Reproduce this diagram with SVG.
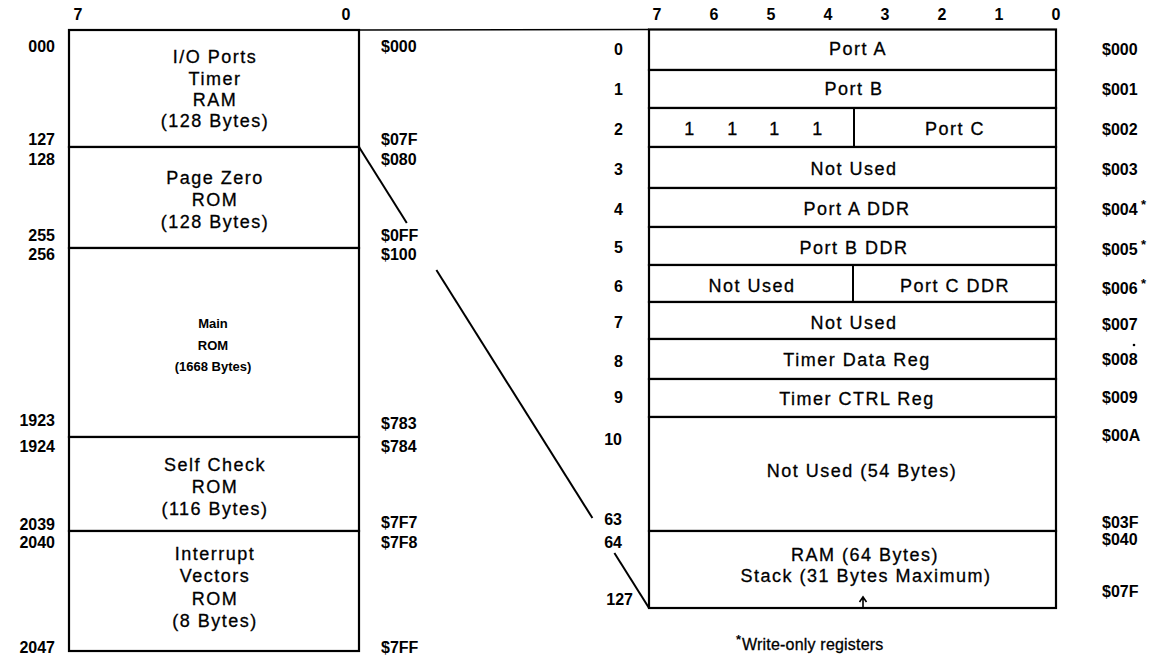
<svg xmlns="http://www.w3.org/2000/svg" width="1156" height="660" viewBox="0 0 1156 660">
<style>
.box{fill:#fff;stroke:#000;stroke-width:2.2}
.div{stroke:#000;stroke-width:2}
.conn{stroke:#000;stroke-width:2;fill:none}
.lbl{font-family:"Liberation Sans",Arial,sans-serif;font-weight:bold;font-size:16px;fill:#000}
.r{text-anchor:end}
.txt{font-family:"Liberation Sans",Arial,sans-serif;font-size:18px;letter-spacing:1.5px;text-anchor:middle;fill:#000;stroke:#000;stroke-width:0.3}
.sm{font-family:"Liberation Sans",Arial,sans-serif;font-size:13px;font-weight:bold;text-anchor:middle;fill:#000}
.ast{font-family:"Liberation Sans",Arial,sans-serif;font-weight:bold;font-size:13px;fill:#000}
</style>
<rect width="1156" height="660" fill="#fff"/>

<!-- bit headers -->
<g id="bits-left" class="lbl" text-anchor="middle">
<text x="78" y="20">7</text><text x="346" y="20">0</text>
</g>
<g id="bits-right" class="lbl" text-anchor="middle">
<text x="657" y="20">7</text><text x="714" y="20">6</text><text x="771" y="20">5</text><text x="828" y="20">4</text><text x="885" y="20">3</text><text x="942" y="20">2</text><text x="999" y="20">1</text><text x="1056" y="20">0</text>
</g>

<!-- connectors -->
<g id="connectors" class="conn">
<line x1="359" y1="30" x2="649" y2="29.5" stroke-width="1.6"/>
<line x1="359" y1="147" x2="406.8" y2="223"/>
<line x1="436.4" y1="270" x2="592.4" y2="518"/>
<line x1="614.4" y1="553" x2="649" y2="608"/>
</g>

<!-- left memory map -->
<g id="io-ram">
<rect class="box" x="69" y="30" width="290" height="117"/>
<text class="txt" x="215" y="63">I/O Ports</text>
<text class="txt" x="215" y="85">Timer</text>
<text class="txt" x="215" y="106">RAM</text>
<text class="txt" x="215" y="127">(128 Bytes)</text>
<text class="lbl r" x="55" y="52">000</text><text class="lbl r" x="55" y="145">127</text>
<text class="lbl" x="381" y="52">$000</text><text class="lbl" x="381" y="145">$07F</text>
</g>
<g id="page-zero-rom">
<rect class="box" x="69" y="147" width="290" height="101"/>
<text class="txt" x="215" y="184">Page Zero</text>
<text class="txt" x="215" y="206">ROM</text>
<text class="txt" x="215" y="228">(128 Bytes)</text>
<text class="lbl r" x="55" y="165">128</text><text class="lbl r" x="55" y="241">255</text>
<text class="lbl" x="381" y="165">$080</text><text class="lbl" x="381" y="241">$0FF</text>
</g>
<g id="main-rom">
<rect class="box" x="69" y="248" width="290" height="189"/>
<text class="sm" x="213" y="328">Main</text>
<text class="sm" x="213" y="350">ROM</text>
<text class="sm" x="213" y="371">(1668 Bytes)</text>
<text class="lbl r" x="55" y="260">256</text><text class="lbl r" x="55" y="426">1923</text>
<text class="lbl" x="381" y="260">$100</text><text class="lbl" x="381" y="429">$783</text>
</g>
<g id="self-check-rom">
<rect class="box" x="69" y="437" width="290" height="94"/>
<text class="txt" x="215" y="471">Self Check</text>
<text class="txt" x="215" y="493">ROM</text>
<text class="txt" x="215" y="515">(116 Bytes)</text>
<text class="lbl r" x="55" y="452">1924</text><text class="lbl r" x="55" y="530">2039</text>
<text class="lbl" x="381" y="452">$784</text><text class="lbl" x="381" y="528">$7F7</text>
</g>
<g id="vectors-rom">
<rect class="box" x="69" y="531" width="290" height="120"/>
<text class="txt" x="215" y="560">Interrupt</text>
<text class="txt" x="215" y="582">Vectors</text>
<text class="txt" x="215" y="605">ROM</text>
<text class="txt" x="215" y="627">(8 Bytes)</text>
<text class="lbl r" x="55" y="548">2040</text><text class="lbl r" x="55" y="653">2047</text>
<text class="lbl" x="381" y="548">$7F8</text><text class="lbl" x="381" y="653">$7FF</text>
</g>

<!-- right register map -->
<g id="row-0">
<rect class="box" x="649" y="29.5" width="407" height="40.5"/>
<text class="txt" x="858" y="55">Port A</text>
<text class="lbl r" x="623" y="55">0</text><text class="lbl" x="1102" y="55">$000</text>
</g>
<g id="row-1">
<rect class="box" x="649" y="70" width="407" height="38"/>
<text class="txt" x="854" y="95">Port B</text>
<text class="lbl r" x="623" y="95">1</text><text class="lbl" x="1102" y="95">$001</text>
</g>
<g id="row-2">
<rect class="box" x="649" y="108" width="407" height="39"/>
<line class="div" x1="854" y1="108" x2="854" y2="147"/>
<g class="txt" letter-spacing="0"><text x="690" y="135">1</text><text x="733" y="135">1</text><text x="775" y="135">1</text><text x="818" y="135">1</text></g>
<text class="txt" x="955" y="135">Port C</text>
<text class="lbl r" x="623" y="135">2</text><text class="lbl" x="1102" y="135">$002</text>
</g>
<g id="row-3">
<rect class="box" x="649" y="147" width="407" height="41"/>
<text class="txt" x="854" y="175">Not Used</text>
<text class="lbl r" x="623" y="175">3</text><text class="lbl" x="1102" y="175">$003</text>
</g>
<g id="row-4">
<rect class="box" x="649" y="188" width="407" height="39"/>
<text class="txt" x="857" y="215">Port A DDR</text>
<text class="lbl r" x="623" y="215">4</text><text class="lbl" x="1102" y="215">$004</text><text class="ast" x="1141" y="209">*</text>
</g>
<g id="row-5">
<rect class="box" x="649" y="227" width="407" height="38"/>
<text class="txt" x="854" y="254">Port B DDR</text>
<text class="lbl r" x="623" y="253">5</text><text class="lbl" x="1102" y="255">$005</text><text class="ast" x="1141" y="249">*</text>
</g>
<g id="row-6">
<rect class="box" x="649" y="265" width="407" height="37"/>
<line class="div" x1="853" y1="265" x2="853" y2="302"/>
<text class="txt" x="752" y="292">Not Used</text>
<text class="txt" x="955" y="292">Port C DDR</text>
<text class="lbl r" x="623" y="292">6</text><text class="lbl" x="1102" y="294">$006</text><text class="ast" x="1141" y="288">*</text>
</g>
<g id="row-7">
<rect class="box" x="649" y="302" width="407" height="37"/>
<text class="txt" x="854" y="329">Not Used</text>
<text class="lbl r" x="623" y="328">7</text><text class="lbl" x="1102" y="330">$007</text>
</g>
<g id="row-8">
<rect class="box" x="649" y="339" width="407" height="40"/>
<text class="txt" x="857" y="366">Timer Data Reg</text>
<text class="lbl r" x="623" y="367">8</text><text class="lbl" x="1102" y="365">$008</text><circle cx="1134" cy="345" r="1.3" fill="#000"/>
</g>
<g id="row-9">
<rect class="box" x="649" y="379" width="407" height="38"/>
<text class="txt" x="857" y="405">Timer CTRL Reg</text>
<text class="lbl r" x="623" y="403">9</text><text class="lbl" x="1102" y="403">$009</text>
</g>
<g id="row-10">
<rect class="box" x="649" y="417" width="407" height="114"/>
<text class="txt" x="862" y="477">Not Used (54 Bytes)</text>
<text class="lbl r" x="622" y="445">10</text><text class="lbl" x="1102" y="441">$00A</text>
<text class="lbl r" x="622" y="525">63</text><text class="lbl" x="1102" y="528">$03F</text>
</g>
<g id="row-ram">
<rect class="box" x="649" y="531" width="407" height="77"/>
<text class="txt" x="865" y="561">RAM (64 Bytes)</text>
<text class="txt" x="866" y="582">Stack (31 Bytes Maximum)</text>
<path d="M863 608 V598 M859.5 602 L863 597 L866.5 602" fill="none" stroke="#000" stroke-width="1.6"/>
<text class="lbl r" x="622" y="548">64</text><text class="lbl" x="1102" y="545">$040</text>
<text class="lbl r" x="633" y="605">127</text><text class="lbl" x="1102" y="597">$07F</text>
</g>

<g id="footnote">
<text class="ast" x="736" y="644">*</text>
<text x="742" y="650" font-family="Liberation Sans, Arial, sans-serif" font-size="16" letter-spacing="0.2" fill="#000" stroke="#000" stroke-width="0.3">Write-only registers</text>
</g>
</svg>
